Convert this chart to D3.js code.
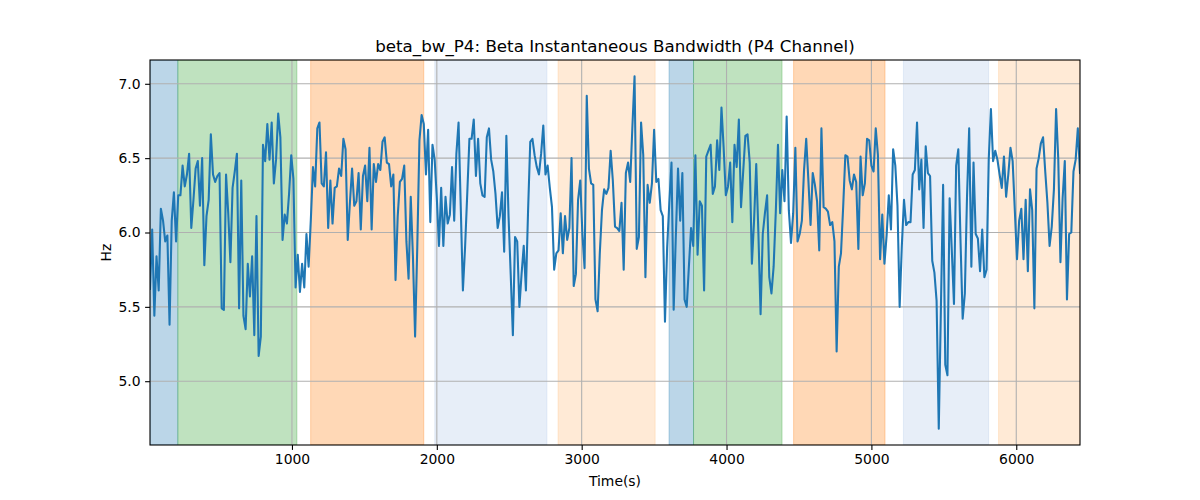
<!DOCTYPE html>
<html>
<head>
<meta charset="utf-8">
<script src="https://cdn.jsdelivr.net/npm/d3@7"></script>
<style>
  html, body { margin: 0; padding: 0; background: #ffffff; }
  svg { display: block; font-family: "DejaVu Sans", sans-serif; }
</style>
</head>
<body>
<svg id="chart" width="1200" height="500"></svg>
<script>
// ---- data ----
const chartTitle = "beta_bw_P4: Beta Instantaneous Bandwidth (P4 Channel)";
const xLabel = "Time(s)";
const yLabel = "Hz";
const startTime = 20;     // first sample time (s)
const sampleStep = 15;    // seconds between samples
const bwValues = [
  // segment 1
  5.62,6.02,5.44,5.84,5.61,6.16,6.08,5.94,5.98,5.38,
  6.08,6.27,5.94,6.25,6.25,6.45,6.31,6.39,6.53,6.03,
  6.22,6.43,6.48,6.18,6.50,5.78,6.11,6.22,6.66,6.39,
  6.34,6.38,6.40,5.49,5.48,6.39,6.13,5.80,6.30,6.41,
  6.53,5.49,6.35,5.44,5.35,5.79,5.57,5.84,5.31,6.11,
  5.17,5.30,6.59,6.48,6.73,6.49,6.74,6.33,6.49,6.80,
  6.64,5.95,6.12,6.06,6.26,6.52,6.36,5.63,5.85,5.60,
  5.79,
  // segment 2
  5.63,5.99,5.77,6.08,6.44,6.31,6.70,6.74,6.33,6.31,
  6.54,6.03,6.35,6.06,6.30,6.31,6.43,6.38,6.63,6.56,
  5.95,6.20,6.43,6.18,6.21,6.40,6.02,6.38,6.45,6.21,
  6.57,6.02,6.46,6.34,6.46,6.42,6.61,6.64,6.47,6.46,
  6.31,6.39,5.68,6.11,6.34,6.36,6.45,5.94,5.69,6.24,
  5.84,5.30,5.90,6.62,6.79,6.73,6.39,6.69,6.07,6.59,
  6.49,6.23,5.91,6.30,5.91,6.24,6.06,6.12,6.44,6.08,
  6.53,6.74,
  // segment 3
  6.18,5.61,5.90,6.26,6.63,6.63,6.76,6.38,6.63,6.33,
  6.25,6.24,6.64,6.70,6.49,6.41,6.26,6.03,6.11,6.27,
  5.87,6.65,6.11,5.72,5.31,5.97,5.94,5.50,5.72,5.91,
  5.61,6.15,6.61,6.63,6.52,6.44,6.39,6.53,6.72,6.39,
  6.45,6.30,6.17,5.75,5.86,5.88,6.13,5.86,6.11,5.95,
  6.03,6.50,5.64,5.72,6.22,6.35,5.99,5.76,6.92,6.43,
  6.33,6.32,5.55,5.47,5.86,6.15,6.29,6.26,6.30,6.55,
  6.35,6.04,
  // segment 4
  6.03,6.01,6.20,5.75,6.40,6.47,6.34,6.71,7.05,5.89,
  5.97,6.74,6.52,5.70,6.32,6.20,6.33,6.69,6.34,6.36,
  6.15,6.11,5.40,5.90,6.20,6.47,5.48,5.98,6.43,6.08,
  6.40,5.55,5.50,5.77,6.03,5.91,6.52,5.85,6.21,6.18,
  5.61,6.51,6.55,6.59,6.26,6.31,6.62,6.42,6.84,6.57,
  6.25,6.31,6.47,6.07,6.59,6.44,6.76,6.17,6.41,6.65,
  6.66,6.47,5.79,6.08,6.46,5.99,5.45,5.99,6.13,6.25,
  5.70,
  // segment 5
  5.59,5.77,6.14,6.59,6.13,6.42,6.21,6.78,6.15,5.93,
  6.13,6.57,5.94,5.99,6.08,6.42,6.63,6.35,6.05,6.40,
  6.32,6.21,5.88,6.70,6.17,6.16,6.14,6.05,6.07,5.94,
  5.20,5.77,5.86,6.17,6.52,6.51,6.35,6.29,6.39,6.34,
  5.89,6.51,6.25,6.33,6.63,6.62,6.45,6.41,6.70,6.52,
  5.82,6.12,5.79,5.98,6.25,6.02,6.56,6.45,6.18,5.50,
  5.91,6.22,6.05,6.07,6.07,6.39,6.42,6.74,6.29,6.49,
  6.03,
  // segment 6
  6.58,6.40,6.38,5.81,5.73,5.54,4.68,5.50,6.32,5.11,
  5.04,6.23,5.88,5.52,6.45,6.56,5.95,5.42,5.59,6.24,
  6.70,5.77,6.47,5.99,5.96,5.74,6.02,5.70,5.75,6.49,
  6.83,6.48,6.55,6.49,6.39,6.30,6.51,6.24,6.39,6.57,
  6.48,6.15,5.82,6.08,6.16,5.82,6.22,5.74,6.29,6.15,
  5.49,6.43,6.50,6.60,6.64,6.41,6.20,5.91,6.04,6.29,
  6.83,6.49,5.80,6.23,6.48,5.55,5.99,6.00,6.41,6.49,
  6.70,6.40
];
// shaded state intervals (start s, end s, colour key)
const bandStarts = [20, 212, 1129, 1986, 2837, 3603, 3772, 4463, 5221, 5878];
const bandEnds   = [212, 1034, 1910, 2760, 3507, 3772, 4383, 5094, 5809, 6440];
const bandKinds  = ["blue","green","orange","lightblue","lightorange","blue","green","orange","lightblue","lightorange"];
const bandColors = { blue: "#1f77b4", green: "#2ca02c", orange: "#ff7f0e", lightblue: "#aec7e8", lightorange: "#ffbb78" };
const xTicks = [1000, 2000, 3000, 4000, 5000, 6000];
const yTicks = [5.0, 5.5, 6.0, 6.5, 7.0];
const yRange = [4.571, 7.160];

// ---- layout ----
const W = 1200, H = 500;
const m = { left: 150, right: 120, top: 60, bottom: 55 };
const pw = W - m.left - m.right, ph = H - m.top - m.bottom;

const points = bwValues.map((v, i) => ({ t: startTime + i * sampleStep, v }));

const svg = d3.select("#chart");
const x = d3.scaleLinear().domain(d3.extent(points, d => d.t)).range([m.left, m.left + pw]);
const y = d3.scaleLinear().domain(yRange).range([m.top + ph, m.top]);

svg.append("defs").append("clipPath").attr("id", "clip")
  .append("rect").attr("x", m.left).attr("y", m.top).attr("width", pw).attr("height", ph);

const plot = svg.append("g").attr("clip-path", "url(#clip)");

// bands
plot.selectAll("rect.band").data(bandStarts.map((s, i) => ({ s, e: bandEnds[i], k: bandKinds[i] })))
  .enter().append("rect")
  .attr("x", d => x(d.s)).attr("width", d => x(d.e) - x(d.s))
  .attr("y", m.top).attr("height", ph)
  .attr("fill", d => bandColors[d.k]).attr("fill-opacity", 0.3)
  .attr("stroke", d => bandColors[d.k]).attr("stroke-opacity", 0.3).attr("stroke-width", 1);

// grid
plot.append("g").selectAll("line").data(xTicks).enter().append("line")
  .attr("x1", d => x(d)).attr("x2", d => x(d)).attr("y1", m.top).attr("y2", m.top + ph)
  .attr("stroke", "#b0b0b0").attr("stroke-width", 1.1);
plot.append("g").selectAll("line").data(yTicks).enter().append("line")
  .attr("y1", d => y(d)).attr("y2", d => y(d)).attr("x1", m.left).attr("x2", m.left + pw)
  .attr("stroke", "#b0b0b0").attr("stroke-width", 1.1);

// line
plot.append("path").datum(points)
  .attr("fill", "none").attr("stroke", "#1f77b4").attr("stroke-width", 2.08)
  .attr("stroke-linejoin", "round").attr("stroke-linecap", "square")
  .attr("d", d3.line().x(d => x(d.t)).y(d => y(d.v)));

// axes
const xAxis = svg.append("g").attr("transform", `translate(0,${m.top + ph})`)
  .call(d3.axisBottom(x).tickValues(xTicks).tickFormat(d3.format("d")).tickSizeOuter(0).tickSize(4.9).tickPadding(4.5));
const yAxis = svg.append("g").attr("transform", `translate(${m.left},0)`)
  .call(d3.axisLeft(y).tickValues(yTicks).tickFormat(d3.format(".1f")).tickSizeOuter(0).tickSize(4.9).tickPadding(4.5));
[xAxis, yAxis].forEach(a => {
  a.select(".domain").remove();
  a.selectAll(".tick line").attr("stroke", "#000").attr("stroke-width", 1.1);
  a.selectAll(".tick text").attr("font-size", "13.9px").attr("fill", "#000")
    .attr("font-family", "DejaVu Sans, sans-serif");
});

// frame
svg.append("rect").attr("x", m.left).attr("y", m.top).attr("width", pw).attr("height", ph)
  .attr("fill", "none").attr("stroke", "#000").attr("stroke-width", 1.1);

// labels
svg.append("text").attr("x", m.left + pw / 2).attr("y", 52).attr("text-anchor", "middle")
  .attr("font-size", "16.7px").attr("fill", "#000").text(chartTitle);
svg.append("text").attr("x", m.left + pw / 2).attr("y", 486).attr("text-anchor", "middle")
  .attr("font-size", "13.9px").attr("fill", "#000").text(xLabel);
svg.append("text").attr("transform", `translate(111,${m.top + ph / 2}) rotate(-90)`)
  .attr("text-anchor", "middle").attr("font-size", "13.9px").attr("fill", "#000").text(yLabel);
</script>
</body>
</html>
